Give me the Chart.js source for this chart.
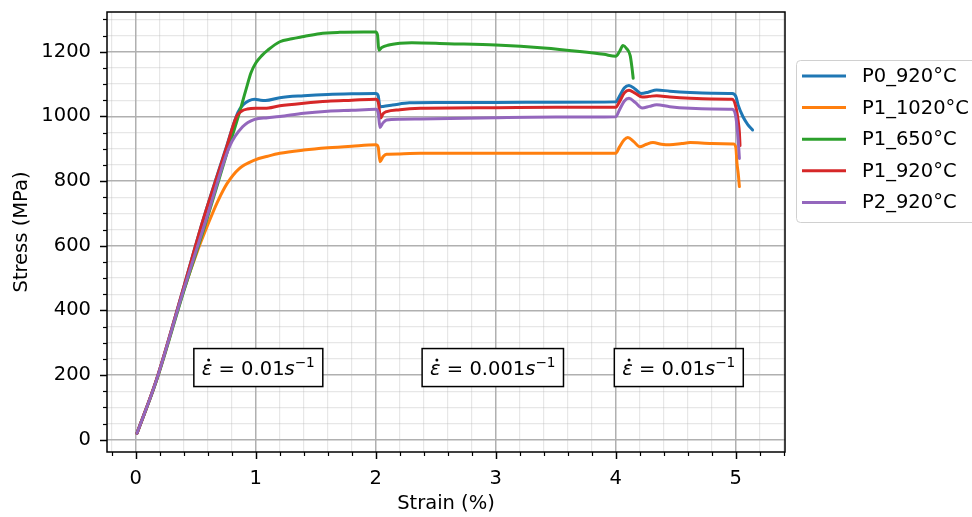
<!DOCTYPE html>
<html><head><meta charset="utf-8">
<script src="https://cdn.jsdelivr.net/npm/chart.js@4/dist/chart.umd.min.js"></script>
<style>html,body{margin:0;padding:0;background:#fff}canvas{display:block}</style>
</head><body>
<canvas id="c" width="972" height="517"></canvas>
<script>
// ---------------- data ----------------
const seriesLabels = ['P0_920°C', 'P1_1020°C', 'P1_650°C', 'P1_920°C', 'P2_920°C'];
const seriesColors = ['#1f77b4', '#ff7f0e', '#2ca02c', '#d62728', '#9467bd'];

const p0_920_strain = [0.01,0.17,0.40,0.56,0.75,0.85,0.90,0.94,0.99,1.04,1.08,1.2,1.4,1.6,1.8,2.0,2.02,2.035,2.06,2.14,2.28,2.5,3.0,3.5,4.0,4.03,4.07,4.11,4.16,4.21,4.27,4.34,4.45,4.62,4.8,4.97,5.0,5.02,5.06,5.1,5.14];
const p0_920_stress = [20,183,473,679,900,1012,1038,1048,1053,1050,1049,1058,1064,1068,1070,1071,1064,1030,1031,1035,1042,1043,1043,1044,1045,1062,1088,1096,1085,1071,1075,1082,1078,1074,1072,1071,1062,1035,999,975,958];

const p1_1020_strain = [0.01,0.17,0.40,0.52,0.60,0.68,0.76,0.86,0.99,1.1,1.2,1.4,1.6,1.8,2.0,2.02,2.035,2.06,2.09,2.2,2.37,3.0,3.5,4.0,4.03,4.07,4.10,4.15,4.2,4.25,4.31,4.38,4.45,4.55,4.62,4.8,4.98,5.0,5.01,5.02,5.03];
const p1_1020_stress = [20,182,462,590,665,735,792,838,865,877,886,896,903,908,912,905,860,875,883,884,886,886,886,886,905,928,935,922,906,913,919,914,912,916,919,916,915,905,855,824,783];

const p1_650_strain = [0.01,0.17,0.40,0.59,0.75,0.87,0.92,0.96,1.0,1.05,1.1,1.2,1.3,1.4,1.53,1.7,1.9,2.0,2.015,2.025,2.05,2.1,2.2,2.3,2.6,3.0,3.4,3.7,3.9,4.0,4.03,4.06,4.09,4.12,4.135,4.145];
const p1_650_stress = [20,180,460,679,875,1020,1085,1135,1165,1188,1205,1231,1240,1247,1256,1260,1261,1261,1250,1205,1213,1220,1226,1228,1225,1221,1212,1201,1192,1186,1200,1219,1210,1188,1150,1118];

const p1_920_strain = [0.01,0.17,0.40,0.56,0.75,0.84,0.88,0.93,1.0,1.075,1.2,1.4,1.6,1.8,2.0,2.02,2.04,2.06,2.09,2.2,2.37,3.0,3.5,4.0,4.03,4.07,4.11,4.16,4.22,4.28,4.34,4.45,4.62,4.8,4.97,5.0,5.02,5.03,5.035];
const p1_920_stress = [20,183,473,679,897,1000,1016,1023,1025,1025,1033,1041,1047,1050,1053,1045,995,1008,1015,1021,1025,1027,1028,1028,1045,1072,1081,1072,1060,1062,1064,1060,1056,1054,1053,1030,985,950,910];

const p2_920_strain = [0.01,0.17,0.40,0.59,0.78,0.89,0.99,1.1,1.2,1.4,1.6,1.8,2.0,2.02,2.035,2.06,2.09,2.2,2.37,3.0,3.5,4.0,4.03,4.07,4.11,4.16,4.22,4.28,4.34,4.45,4.62,4.8,4.97,5.0,5.02,5.03];
const p2_920_stress = [20,182,465,685,906,968,991,996,1000,1010,1016,1019,1022,1012,966,980,989,991,992,996,998,999,1020,1047,1056,1044,1026,1031,1036,1030,1025,1023,1022,999,927,870];

const strainSeries = [p0_920_strain, p1_1020_strain, p1_650_strain, p1_920_strain, p2_920_strain];
const stressSeries = [p0_920_stress, p1_1020_stress, p1_650_stress, p1_920_stress, p2_920_stress];

const xTickLabels = ['0', '1', '2', '3', '4', '5'];
const yTickLabels = ['0', '200', '400', '600', '800', '1000', '1200'];

const rateTexts = ['0.01', '0.001', '0.01'];
const rateStrain = [1.021, 2.975, 4.525];
const rateStress = [200, 200, 200];

// ---------------- chart ----------------
const FONT = '"DejaVu Sans"';
const FS = 19.5;
Chart.defaults.font.family = FONT;
Chart.defaults.font.size = FS;
Chart.defaults.color = '#000';

const MAJOR_GRID = '#b0b0b0';
const MINOR_GRID = 'rgba(176,176,176,0.3)';

const isMult = (v, step) => Math.abs(v / step - Math.round(v / step)) < 1e-6;
const stepsBetween = (lo, hi, step) => {
  const out = [];
  for (let k = Math.ceil(lo / step - 1e-9); k * step <= hi + 1e-9; k++) out.push(+(k * step).toFixed(6));
  return out;
};

const datasets = seriesLabels.map((label, i) => ({
  label,
  data: strainSeries[i].map((x, k) => ({ x, y: stressSeries[i][k] })),
  borderColor: seriesColors[i],
  backgroundColor: seriesColors[i],
  borderWidth: 3,
  pointRadius: 0,
  fill: false,
  cubicInterpolationMode: 'monotone',
  borderJoinStyle: 'round',
  borderCapStyle: 'round',
  order: seriesLabels.length - 1 - i
}));

function drawRate(ctx, cx, base, num) {
  const fN = `${FS}px ${FONT}`, fI = `italic ${FS}px ${FONT}`, fS = `${FS * 0.7}px ${FONT}`;
  const segs = [
    { t: 'ε', f: fI, dy: 0 },
    { t: ' = ', f: fN, dy: 0 },
    { t: num, f: fN, dy: 0 },
    { t: 's', f: fI, dy: 0 },
    { t: '−1', f: fS, dy: -8 }
  ];
  let total = 0;
  segs.forEach(s => { ctx.font = s.f; s.w = ctx.measureText(s.t).width; total += s.w; });
  const pad = 8;
  const x0 = cx - total / 2;
  ctx.fillStyle = '#fff';
  ctx.strokeStyle = '#000';
  ctx.lineWidth = 1.5;
  ctx.fillRect(x0 - pad, base - 26.5, total + 2 * pad, 38);
  ctx.strokeRect(x0 - pad, base - 26.5, total + 2 * pad, 38);
  ctx.fillStyle = '#000';
  ctx.textBaseline = 'alphabetic';
  ctx.textAlign = 'left';
  let x = x0;
  segs.forEach((s, i) => {
    ctx.font = s.f;
    ctx.fillText(s.t, x, base + s.dy);
    if (i === 0) {
      ctx.beginPath();
      ctx.arc(x + s.w / 2 + 1.5, base - 15, 1.5, 0, Math.PI * 2);
      ctx.fill();
    }
    x += s.w;
  });
}

const decor = {
  id: 'decor',
  afterDatasetsDraw(chart) {
    const { ctx, chartArea: a, scales: { x, y } } = chart;
    ctx.save();
    rateTexts.forEach((t, i) => {
      drawRate(ctx, x.getPixelForValue(rateStrain[i]), y.getPixelForValue(rateStress[i]), t);
    });
    ctx.strokeStyle = '#000';
    ctx.lineWidth = 1.5;
    ctx.strokeRect(a.left, a.top, a.right - a.left, a.bottom - a.top);
    x.ticks.forEach(t => {
      const major = isMult(t.value, 1);
      const px = Math.round(x.getPixelForValue(t.value)) + 0.5;
      ctx.lineWidth = major ? 1.5 : 1.2;
      ctx.beginPath();
      ctx.moveTo(px, a.bottom);
      ctx.lineTo(px, a.bottom + (major ? 7 : 4));
      ctx.stroke();
    });
    y.ticks.forEach(t => {
      const major = isMult(t.value, 200);
      const py = Math.round(y.getPixelForValue(t.value)) + 0.5;
      ctx.lineWidth = major ? 1.5 : 1.2;
      ctx.beginPath();
      ctx.moveTo(a.left, py);
      ctx.lineTo(a.left - (major ? 7 : 4), py);
      ctx.stroke();
    });
    ctx.restore();
  },
  afterDraw(chart) {
    const { ctx, chartArea: a } = chart;
    ctx.save();
    const fx = a.right + 11.5, fy = 60.5, fw = 200, fh = 162, r = 4;
    ctx.beginPath();
    ctx.moveTo(fx + r, fy);
    ctx.lineTo(fx + fw - r, fy);
    ctx.arcTo(fx + fw, fy, fx + fw, fy + r, r);
    ctx.lineTo(fx + fw, fy + fh - r);
    ctx.arcTo(fx + fw, fy + fh, fx + fw - r, fy + fh, r);
    ctx.lineTo(fx + r, fy + fh);
    ctx.arcTo(fx, fy + fh, fx, fy + fh - r, r);
    ctx.lineTo(fx, fy + r);
    ctx.arcTo(fx, fy, fx + r, fy, r);
    ctx.closePath();
    ctx.fillStyle = 'rgba(255,255,255,0.8)';
    ctx.fill();
    ctx.strokeStyle = '#d0d0d0';
    ctx.lineWidth = 1;
    ctx.stroke();
    ctx.font = `${FS}px ${FONT}`;
    ctx.textBaseline = 'middle';
    ctx.textAlign = 'left';
    chart.data.datasets.forEach((ds, i) => {
      const yy = 76 + i * 31.6;
      ctx.beginPath();
      ctx.moveTo(fx + 5.5, yy);
      ctx.lineTo(fx + 49.5, yy);
      ctx.strokeStyle = ds.borderColor;
      ctx.lineWidth = 3;
      ctx.stroke();
      ctx.fillStyle = '#000';
      ctx.fillText(ds.label, fx + 65.5, yy + 1);
    });
    ctx.restore();
  }
};

new Chart(document.getElementById('c'), {
  type: 'line',
  data: { datasets },
  plugins: [decor],
  options: {
    responsive: false,
    animation: false,
    devicePixelRatio: 1,
    layout: { padding: { top: 12, right: 187, left: 0, bottom: 0 } },
    plugins: { legend: { display: false }, tooltip: { enabled: false } },
    scales: {
      x: {
        type: 'linear',
        min: -0.24,
        max: 5.41,
        afterBuildTicks(s) { s.ticks = stepsBetween(s.min, s.max, 0.2).map(v => ({ value: v })); },
        afterFit(s) { s.height = 65; s.paddingLeft = 0; s.paddingRight = 0; },
        border: { display: false },
        grid: {
          color: c => isMult(c.tick.value, 1) ? MAJOR_GRID : MINOR_GRID,
          lineWidth: c => isMult(c.tick.value, 1) ? 1.5 : 1.2,
          drawTicks: true,
          tickLength: 7,
          tickColor: 'rgba(0,0,0,0)'
        },
        ticks: {
          autoSkip: false,
          maxRotation: 0,
          padding: 8,
          callback: v => {
            if (!isMult(v, 1)) return '';
            const k = xTickLabels.indexOf(String(Math.round(v)));
            return k >= 0 ? xTickLabels[k] : '';
          }
        },
        title: { display: true, text: 'Strain (%)', padding: { top: 0, bottom: 1 } }
      },
      y: {
        type: 'linear',
        min: -38,
        max: 1323,
        afterBuildTicks(s) { s.ticks = stepsBetween(s.min, s.max, 50).map(v => ({ value: v })); },
        afterFit(s) { s.width = 107; s.paddingTop = 0; s.paddingBottom = 0; },
        border: { display: false },
        grid: {
          color: c => isMult(c.tick.value, 200) ? MAJOR_GRID : MINOR_GRID,
          lineWidth: c => isMult(c.tick.value, 200) ? 1.5 : 1.2,
          drawTicks: true,
          tickLength: 7,
          tickColor: 'rgba(0,0,0,0)'
        },
        ticks: {
          autoSkip: false,
          padding: 9,
          callback: v => {
            if (!isMult(v, 200)) return '';
            const k = yTickLabels.indexOf(String(Math.round(v)));
            return k >= 0 ? yTickLabels[k] : '';
          }
        },
        title: { display: true, text: 'Stress (MPa)', padding: { top: 10, bottom: 0 } }
      }
    }
  }
});
</script>
</body></html>
